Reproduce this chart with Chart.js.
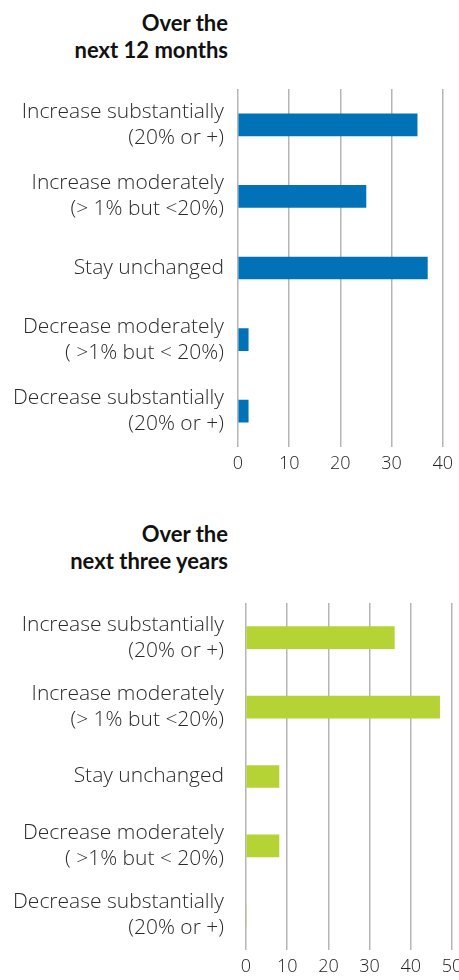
<!DOCTYPE html>
<html>
<head>
<meta charset="utf-8">
<script src="https://cdn.jsdelivr.net/npm/chart.js@4"></script>
<style>
  html, body { margin: 0; padding: 0; background: #fff; width: 459px; height: 980px; overflow: hidden; position: relative; }
  .title { position: absolute; right: 231px; text-align: right; font-family: Lato, "Open Sans", sans-serif; font-weight: 700; font-size: 22px; line-height: 26.5px; color: #111; white-space: nowrap; }
  .box { position: absolute; left: 0; }
</style>
</head>
<body>
<div class="title" style="top:10px;">Over the<br>next 12 months</div>
<div class="title" style="top:521px;">Over the<br>next three years</div>
<div class="box" id="b1" style="top:80px;width:459px;height:400px;"><canvas id="c1"></canvas></div>
<div class="box" id="b2" style="top:590px;width:480px;height:390px;"><canvas id="c2"></canvas></div>
<script>
const categories = [
  ["Increase substantially", "(20% or +)"],
  ["Increase moderately", "(> 1% but <20%)"],
  "Stay unchanged",
  ["Decrease moderately", "( >1% but < 20%)"],
  ["Decrease substantially", "(20% or +)"]
];
const next12Months = [35, 25, 37, 2, 2];
const nextThreeYears = [36, 47, 8, 8, 0];
const ticks12Months = [0, 10, 20, 30, 40];
const ticksThreeYears = [0, 10, 20, 30, 40, 50];

function makeChart(canvasId, values, tickVals, color, axisLeft, labelPad, padTop, padRight, xHeight) {
  return new Chart(document.getElementById(canvasId), {
    type: 'bar',
    data: {
      labels: categories,
      datasets: [{ data: values, backgroundColor: color, barThickness: 22, borderWidth: 0 }]
    },
    options: {
      indexAxis: 'y',
      responsive: true,
      maintainAspectRatio: false,
      animation: false,
      layout: { padding: { top: padTop, right: padRight, left: 0, bottom: 0 } },
      plugins: { legend: { display: false }, tooltip: { enabled: false } },
      scales: {
        x: {
          min: tickVals[0],
          max: tickVals[tickVals.length - 1],
          afterBuildTicks: (s) => { s.ticks = tickVals.map(v => ({ value: v })); },
          afterFit: (s) => { s.height = xHeight; },
          grid: { color: '#b5b5b5', lineWidth: 1.5, drawTicks: false },
          border: { display: false },
          ticks: { padding: 6, color: '#222', font: { family: 'Open Sans', size: 18, weight: 300 }, maxRotation: 0 }
        },
        y: {
          afterFit: (s) => { s.width = axisLeft; s.paddingTop = 0; s.paddingBottom = 0; },
          grid: { display: false, drawTicks: false },
          border: { display: false },
          ticks: { padding: labelPad, color: '#2a2a2a', font: { family: 'Open Sans', size: 21, weight: 300, lineHeight: 1.24 } }
        }
      }
    }
  });
}

makeChart('c1', next12Months, ticks12Months, '#0272b8', 238, 14, 9, 14, 33);
makeChart('c2', nextThreeYears, ticksThreeYears, '#b6d335', 246, 22, 13, 28, 30);
</script>
</body>
</html>
